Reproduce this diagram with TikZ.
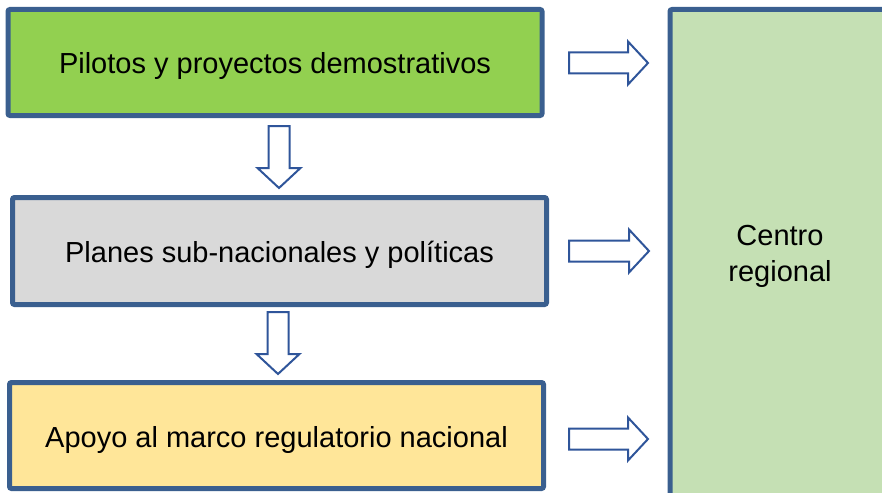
\documentclass[tikz,border=0pt]{standalone}
\usepackage{fontspec}
\setmainfont{Liberation Sans}
\definecolor{borde}{HTML}{3A5F8F}
\definecolor{flecha}{HTML}{2F559A}
\definecolor{verde}{HTML}{92D050}
\definecolor{gris}{HTML}{D9D9D9}
\definecolor{amarillo}{HTML}{FFE699}
\definecolor{verdeclaro}{HTML}{C5E0B4}
\tikzset{
  marco/.style={draw=borde, line width=5pt, rounded corners=2pt, inner sep=0pt, align=center, font=\fontsize{29}{36}\selectfont},
  caja/.style={marco, minimum width=534pt, minimum height=106pt, text height=25pt, text depth=2pt},
  fatflecha/.style={draw=flecha, line width=2pt, fill=white, line join=miter}
}
% block arrow: origin, rotation, length
\newcommand{\fatarrow}[3]{%
  \draw[fatflecha, shift={#1}, rotate=#2] (0,-10.5) -- (#3-20,-10.5) -- (#3-20,-21.5) -- (#3,0) -- (#3-20,21.5) -- (#3-20,10.5) -- (0,10.5) -- cycle;}
\begin{document}
\begin{tikzpicture}[x=1pt,y=-1pt]
		\useasboundingbox (0,0) rectangle (882,492);
		\begin{scope}
		\clip (0,0) rectangle (882,492);
		\node[marco, fill=verdeclaro, minimum width=220pt, minimum height=494pt] (centro) at (780,256.5) {Centro\\regional};
		\end{scope}
		\node[caja, fill=verde] (pilotos) at (275,62.5) {Pilotos y proyectos demostrativos};
		\node[caja, fill=gris, minimum height=107pt] (planes) at (279.5,251) {Planes sub-nacionales y políticas};
		\node[caja, fill=amarillo] (apoyo) at (276.5,435.5) {Apoyo al marco regulatorio nacional};
		
		\fatarrow{(569,63)}{0}{79}
		\fatarrow{(569,251)}{0}{80}
		\fatarrow{(569,439)}{0}{79}
		\fatarrow{(279,126)}{-90}{62}
		\fatarrow{(278,312)}{-90}{62}
		\end{tikzpicture}
\end{document}
